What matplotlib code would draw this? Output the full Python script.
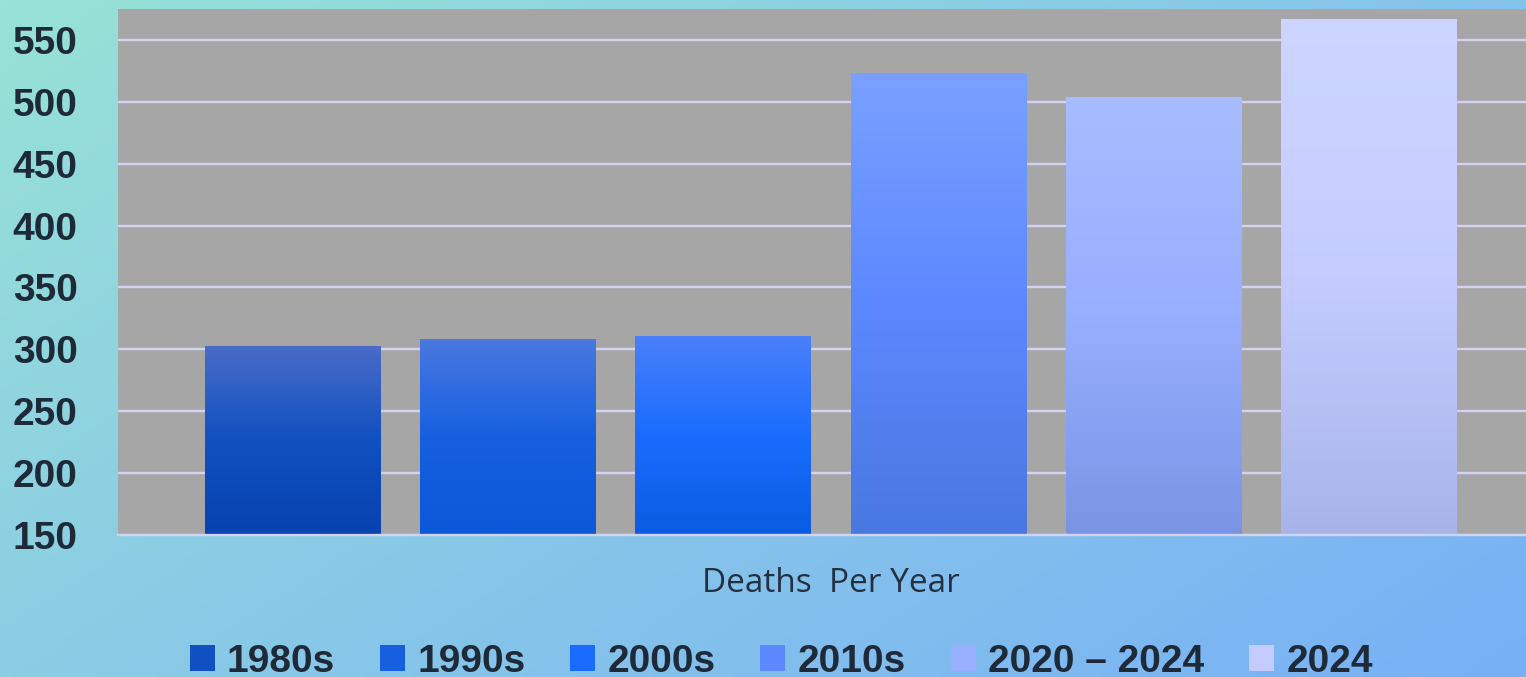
import numpy as np
import matplotlib
matplotlib.use("Agg")
import matplotlib.pyplot as plt
from matplotlib.colors import LinearSegmentedColormap
from matplotlib.patches import Patch

# data
series = ['1980s', '1990s', '2000s', '2010s', '2020 \u2013 2024', '2024']
deaths = [303, 308, 311, 523, 504, 567]
category = 'Deaths  Per Year'

# gradient stops per bar: top, middle, bottom
grad_top = ['#4A6CC8', '#4A78E0', '#4A80F8', '#7AA0FF', '#A8BCFF', '#CCD6FF']
grad_mid = ['#1050C0', '#1660E0', '#1A6CFF', '#5C88FF', '#98AEFF', '#C4CCFF']
grad_bot = ['#0843B0', '#0C58D8', '#0A5CE0', '#4878E0', '#7A94E4', '#A8B4E8']

ymin, ymax = 150, 575
txt = '#1E2A38'

fig = plt.figure(figsize=(15.26, 6.77), dpi=100)

# background gradient (diagonal teal -> blue)
bg = fig.add_axes([0, 0, 1, 1], zorder=-10)
bg.axis('off')
xx, yy = np.meshgrid(np.linspace(0, 1, 300), np.linspace(0, 1, 150))
t = (xx * 0.6 + yy * 0.4)
bg_cmap = LinearSegmentedColormap.from_list('bg', ['#98E2D6', '#88C8E8', '#78B0F6'])
bg.imshow(t, cmap=bg_cmap, aspect='auto', extent=[0, 1, 0, 1], origin='upper')
bg.set_xlim(0, 1)
bg.set_ylim(0, 1)

ax = fig.add_axes([118 / 1526, 1 - 535 / 677, 1 - 118 / 1526, (535 - 9) / 677])
ax.set_facecolor('#A6A6A6')

x = np.arange(len(series))
width = 0.813
bars = ax.bar(x, deaths, width=width, color=grad_mid, zorder=2)

for i, rect in enumerate(bars):
    cmap = LinearSegmentedColormap.from_list(f'g{i}', [grad_bot[i], grad_mid[i], grad_top[i]])
    grad = np.linspace(0, 1, 256).reshape(-1, 1)
    x0 = rect.get_x()
    im = ax.imshow(grad, cmap=cmap, aspect='auto', origin='lower',
                   extent=[x0, x0 + rect.get_width(), ymin, deaths[i]], zorder=3)
    im.set_clip_path(rect)

ax.set_xlim(-0.81, 5.73)
ax.set_ylim(ymin, ymax)
ax.set_yticks(range(150, 551, 50))
ax.yaxis.grid(True, color='#D2D2F2', linewidth=1.7, zorder=1)
ax.set_axisbelow(True)

for s in ['top', 'right', 'left']:
    ax.spines[s].set_visible(False)
ax.spines['bottom'].set_color('#D2D2F2')
ax.spines['bottom'].set_linewidth(1.7)
ax.spines['bottom'].set_zorder(4)

ax.set_xticks([2.5])
ax.set_xticklabels([category], fontfamily='Open Sans', fontsize=24, color='#243040')
ax.tick_params(axis='x', length=0, pad=23)
ax.tick_params(axis='y', length=0, pad=29)
for lab in ax.get_yticklabels():
    lab.set_fontfamily('Liberation Sans')
    lab.set_fontweight('bold')
    lab.set_fontsize(28)
    lab.set_color(txt)
    lab.set_y(lab.get_position()[1])

handles = [Patch(facecolor=grad_mid[i], edgecolor='none') for i in range(len(series))]
leg = fig.legend(handles, series, loc='center', bbox_to_anchor=(0.512, 1 - 662 / 677),
                 ncol=6, frameon=False, handlelength=0.64, handleheight=0.64,
                 handletextpad=0.32, columnspacing=1.15,
                 prop={'family': 'Liberation Sans', 'weight': 'bold', 'size': 28})
for tx in leg.get_texts():
    tx.set_color(txt)

fig.savefig('out.png', dpi=100)
